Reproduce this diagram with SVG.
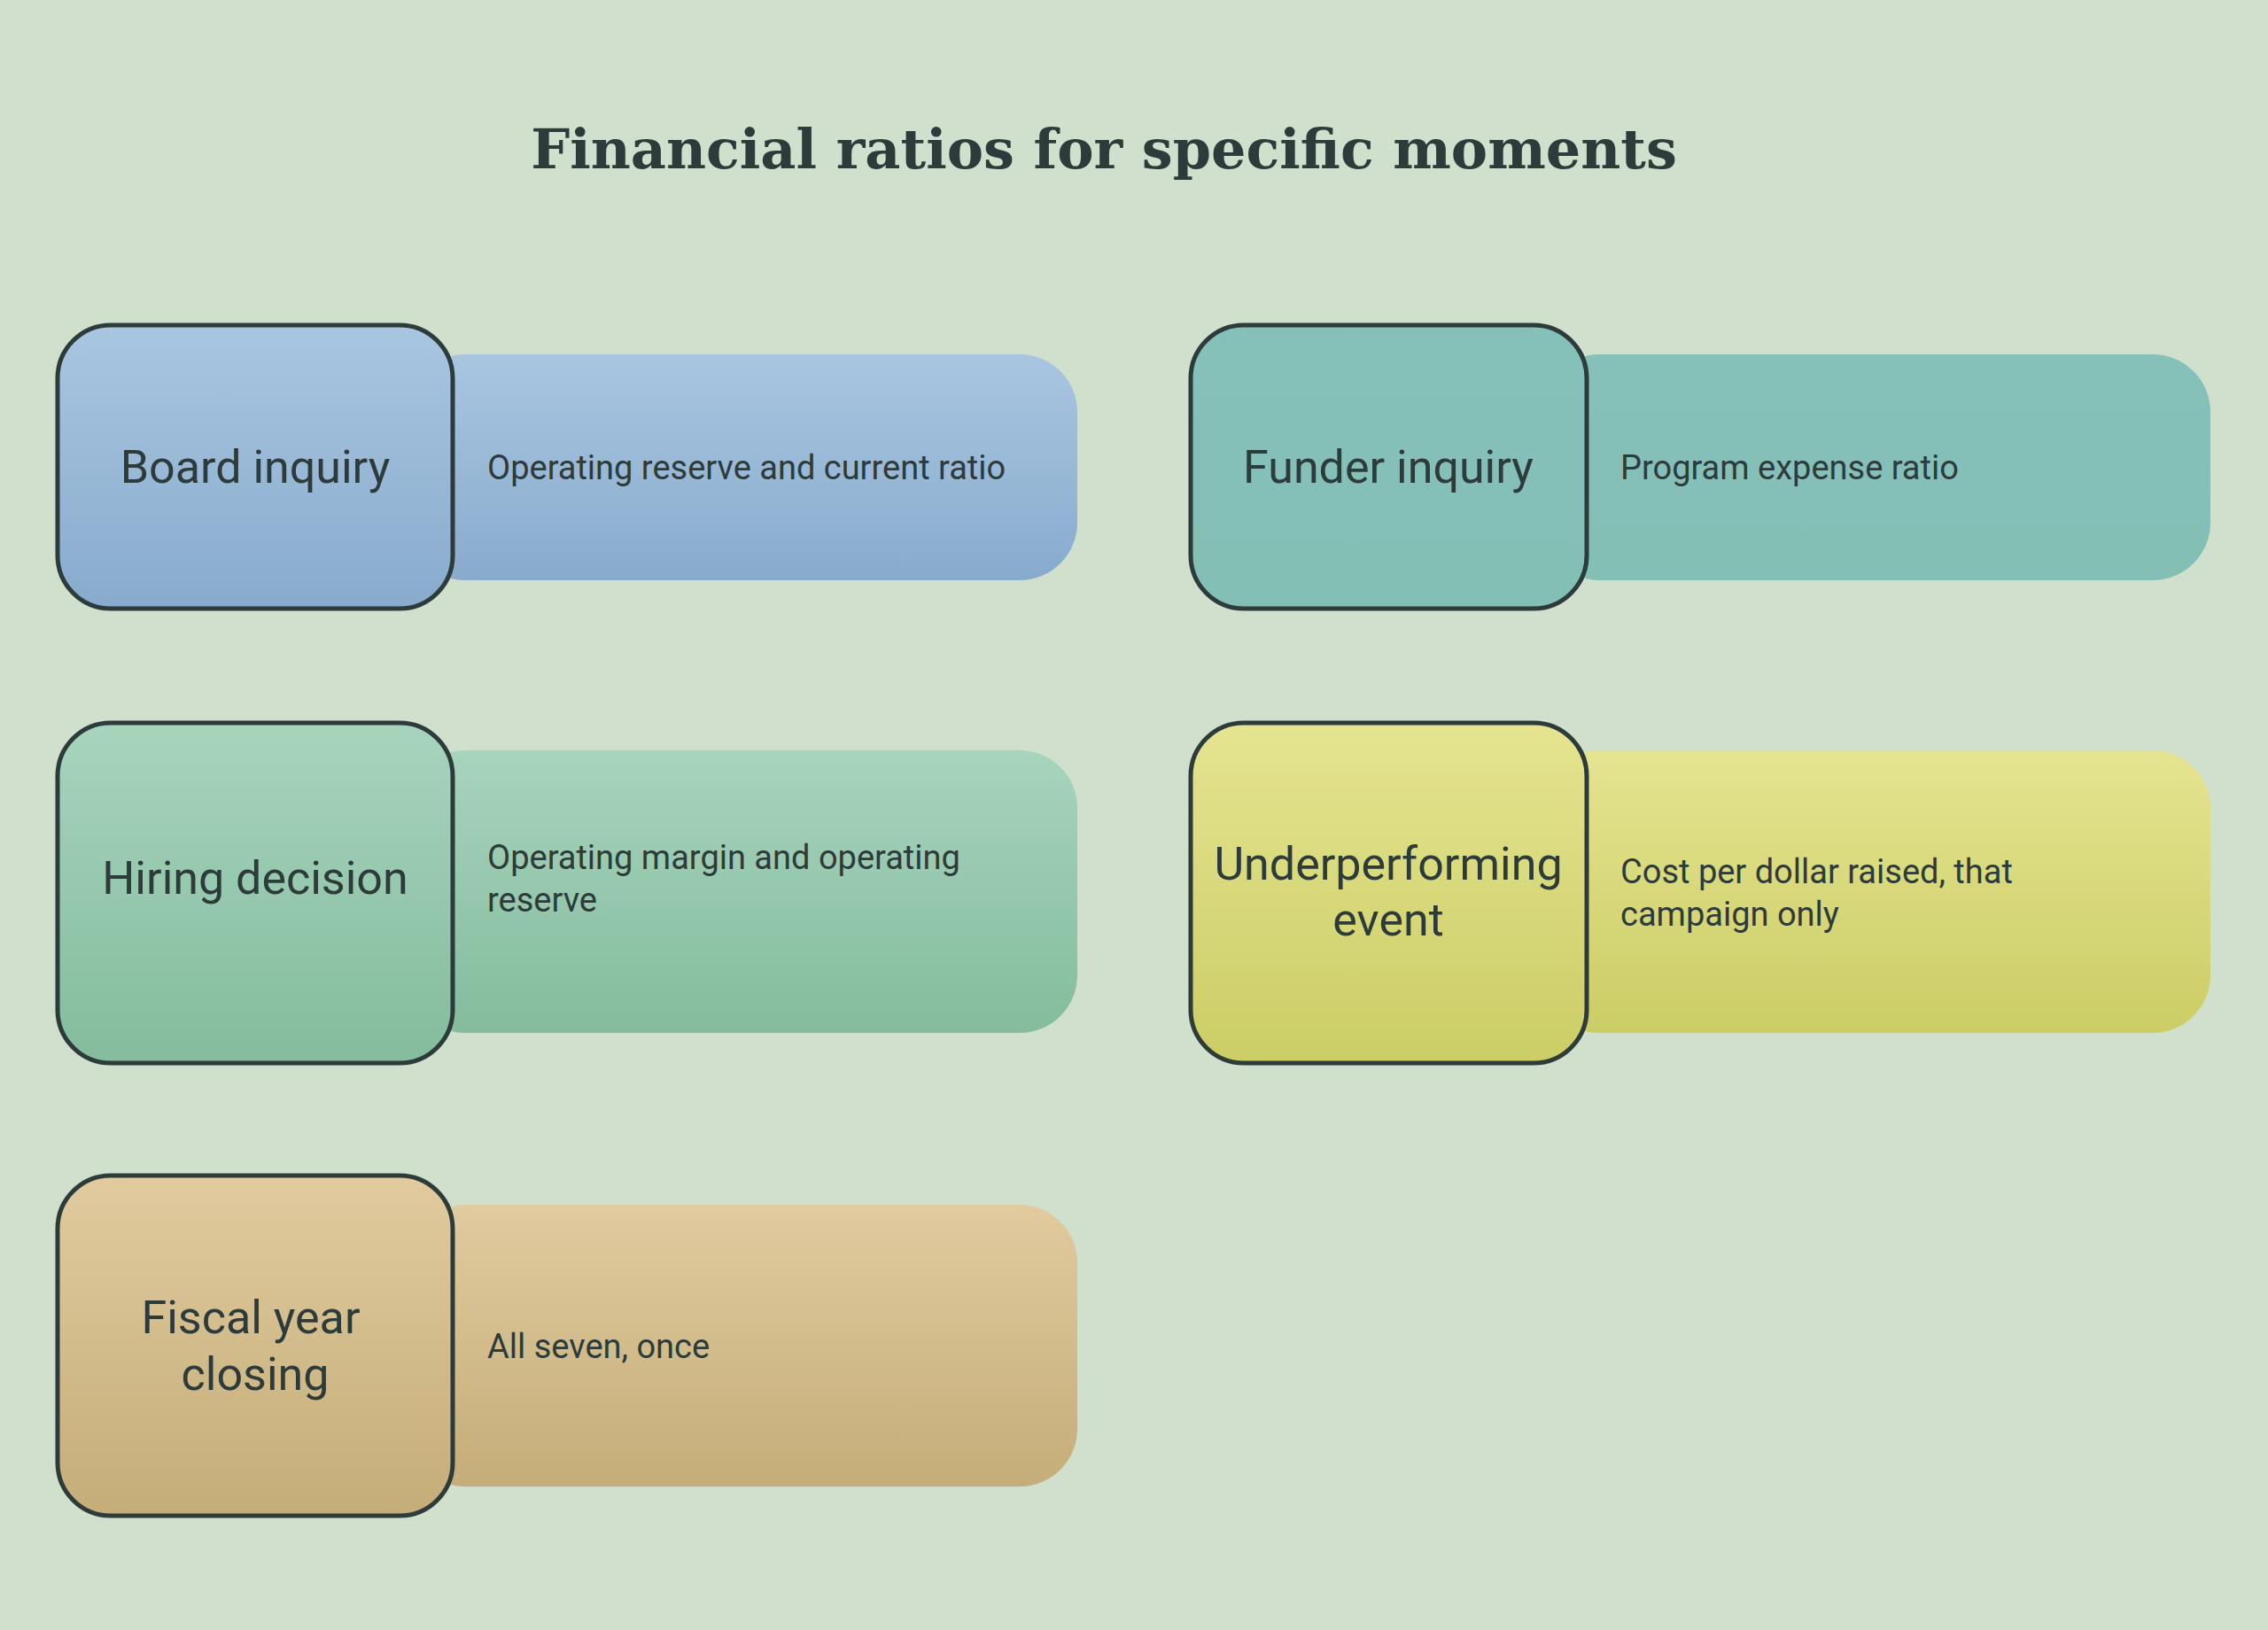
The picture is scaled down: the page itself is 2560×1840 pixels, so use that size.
<svg xmlns="http://www.w3.org/2000/svg" width="2560" height="1840" viewBox="0 0 2560 1840">
<defs>
<linearGradient id="gb" x1="0" y1="0" x2="0" y2="1"><stop offset="0" stop-color="#a9c6e1"/><stop offset="1" stop-color="#88abcd"/></linearGradient>
<linearGradient id="gt" x1="0" y1="0" x2="0" y2="1"><stop offset="0" stop-color="#85c1b9"/><stop offset="1" stop-color="#84bfb6"/></linearGradient>
<linearGradient id="gg" x1="0" y1="0" x2="0" y2="1"><stop offset="0" stop-color="#a7d4bd"/><stop offset="1" stop-color="#84bc9d"/></linearGradient>
<linearGradient id="gy" x1="0" y1="0" x2="0" y2="1"><stop offset="0" stop-color="#e5e491"/><stop offset="1" stop-color="#cbcd65"/></linearGradient>
<linearGradient id="gn" x1="0" y1="0" x2="0" y2="1"><stop offset="0" stop-color="#e1cb9f"/><stop offset="1" stop-color="#c4ad78"/></linearGradient>
</defs>
<style>
.node{stroke:#2d3b3a;stroke-width:5}
.lbl{font-family:Roboto,"Liberation Sans",sans-serif;font-size:52px;fill:#2d3b3a;text-anchor:middle}
.desc{font-family:Roboto,"Liberation Sans",sans-serif;font-size:38px;fill:#2d3b3a}
.title{font-family:"DejaVu Serif","Liberation Serif",serif;font-weight:bold;font-size:62px;fill:#2d3b3a;text-anchor:middle}
</style>
<rect width="2560" height="1840" fill="#d0e0cc"/>
<text class="title" x="1246" y="190">Financial ratios for specific moments</text>
<g id="connectors"/>
<g id="board">
<rect x="460" y="400" width="756" height="255" rx="65" fill="url(#gb)"/>
<rect class="node" x="65" y="367" width="446" height="320" rx="60" fill="url(#gb)"/>
<text class="lbl" x="288" y="545">Board inquiry</text>
<text class="desc" x="550" y="541">Operating reserve and current ratio</text>
</g>
<g id="funder">
<rect x="1740" y="400" width="755" height="255" rx="65" fill="url(#gt)"/>
<rect class="node" x="1344" y="367" width="447" height="320" rx="60" fill="url(#gt)"/>
<text class="lbl" x="1567" y="545">Funder inquiry</text>
<text class="desc" x="1829" y="541">Program expense ratio</text>
</g>
<g id="hiring">
<rect x="460" y="847" width="756" height="319" rx="65" fill="url(#gg)"/>
<rect class="node" x="65" y="816" width="446" height="384" rx="60" fill="url(#gg)"/>
<text class="lbl" x="288" y="1009">Hiring decision</text>
<text class="desc" x="550" y="981">Operating margin and operating</text>
<text class="desc" x="550" y="1029">reserve</text>
</g>
<g id="underperforming">
<rect x="1740" y="847" width="755" height="319" rx="65" fill="url(#gy)"/>
<rect class="node" x="1344" y="816" width="447" height="384" rx="60" fill="url(#gy)"/>
<text class="lbl" x="1567" y="993">Underperforming</text>
<text class="lbl" x="1567" y="1056">event</text>
<text class="desc" x="1829" y="997">Cost per dollar raised, that</text>
<text class="desc" x="1829" y="1045">campaign only</text>
</g>
<g id="fiscal">
<rect x="460" y="1360" width="756" height="318" rx="65" fill="url(#gn)"/>
<rect class="node" x="65" y="1327" width="446" height="384" rx="60" fill="url(#gn)"/>
<text class="lbl" x="283" y="1505">Fiscal year</text>
<text class="lbl" x="288" y="1569">closing</text>
<text class="desc" x="550" y="1533">All seven, once</text>
</g>
</svg>
